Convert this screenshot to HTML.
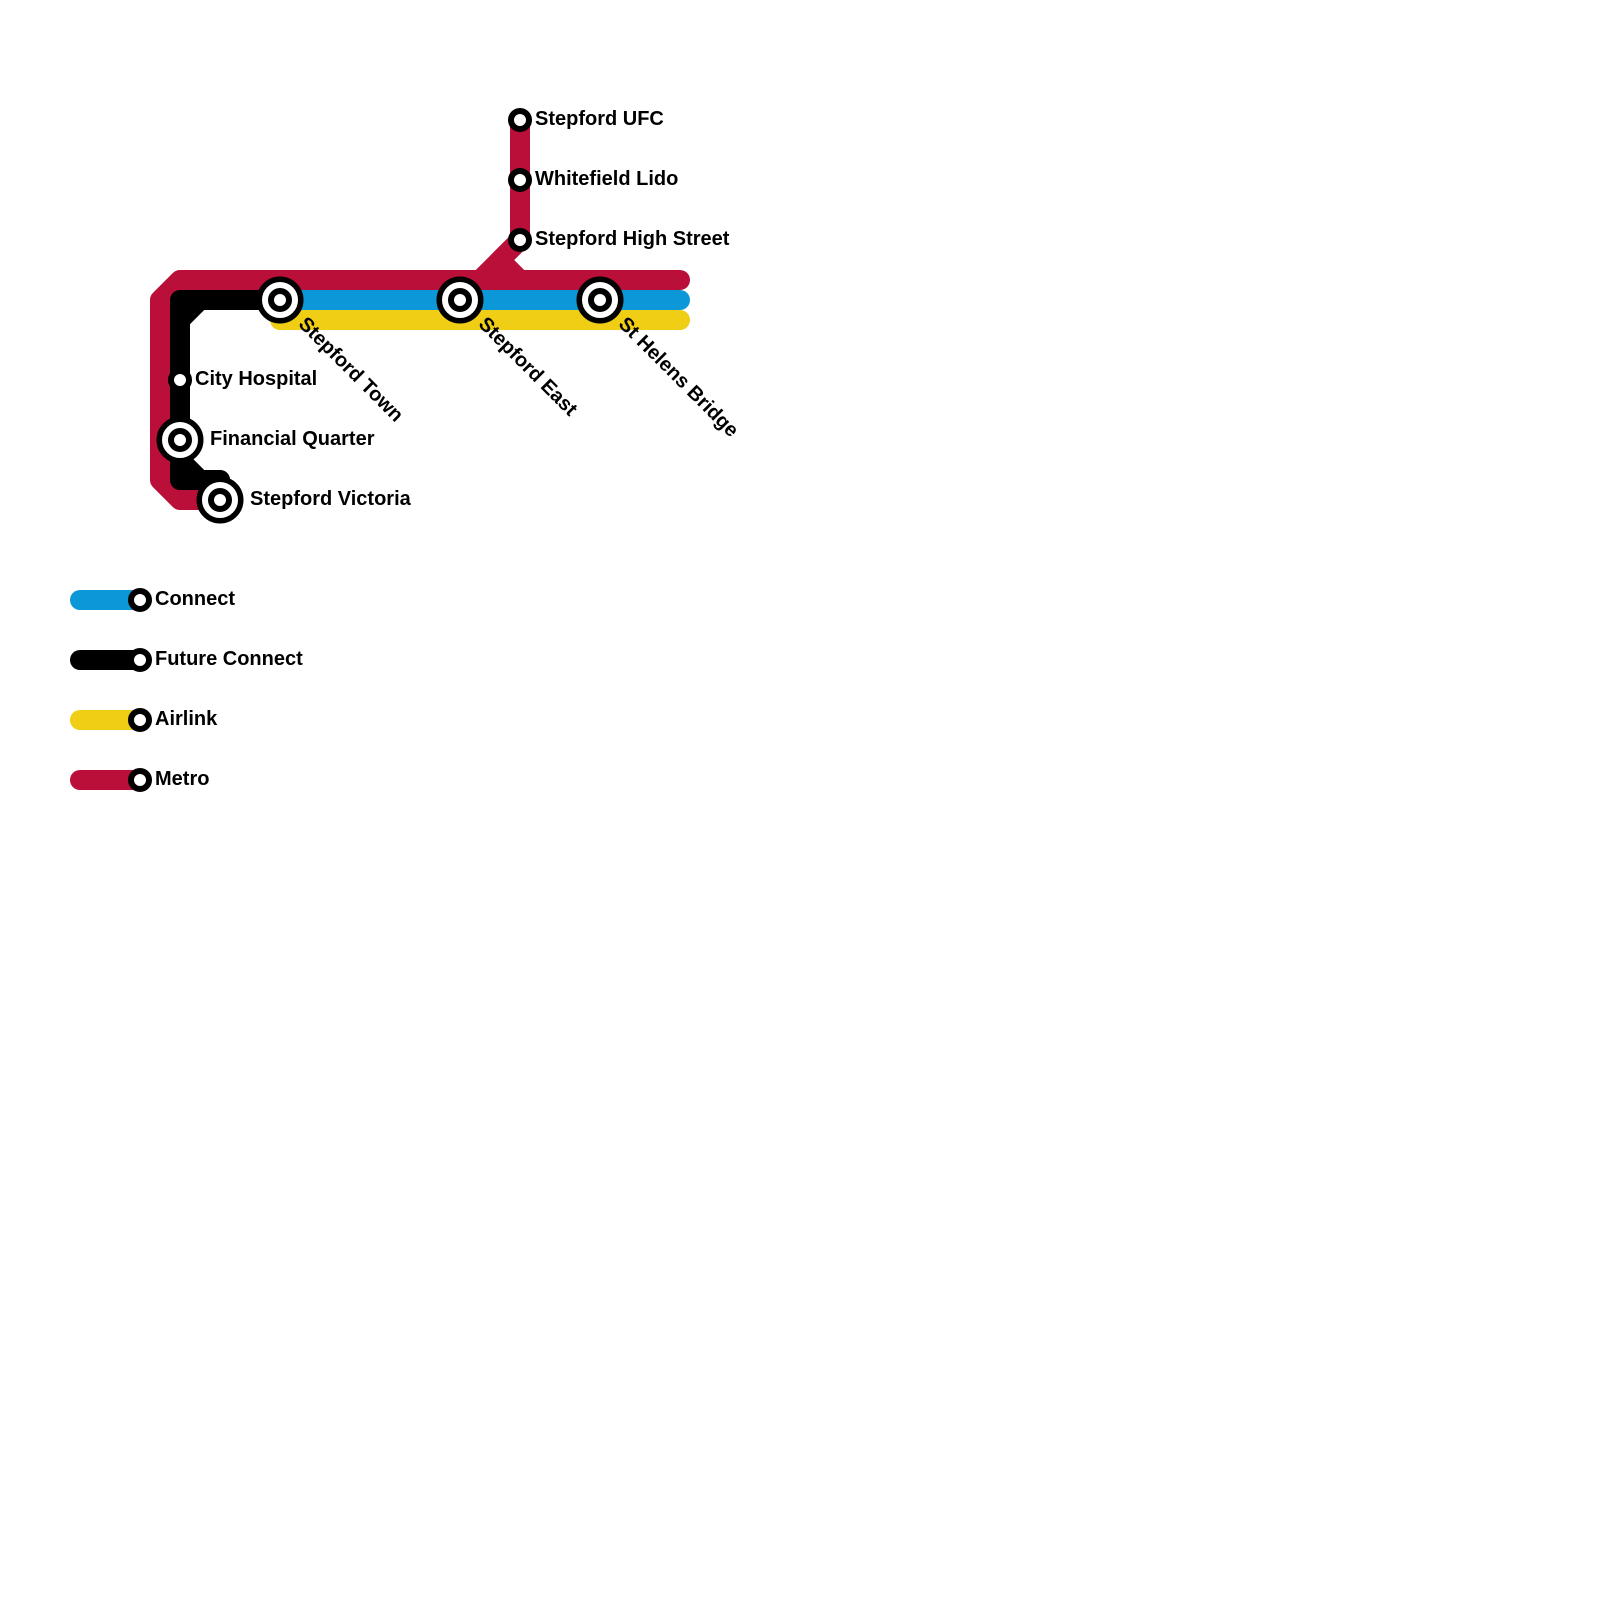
<!DOCTYPE html>
<html>
<head>
<meta charset="utf-8">
<style>
html,body{margin:0;padding:0;background:#fff;}
svg{display:block;}
text{font-family:"Liberation Sans",sans-serif;font-weight:bold;font-size:20px;fill:#000;}
</style>
</head>
<body>
<svg width="1600" height="1600" viewBox="0 0 1600 1600" xmlns="http://www.w3.org/2000/svg">
<rect width="1600" height="1600" fill="#fff"/>
<g fill="none" stroke-width="20" stroke-linecap="round" stroke-linejoin="round">
<path stroke="#BA0F39" d="M680 280H180L160 300V480L180 500H220"/>
<path stroke="#BA0F39" d="M520 120V240L480 280"/>
<path stroke="#BA0F39" d="M520 240L500 260L520 280"/>
<path stroke="#0C97D8" d="M280 300H680"/>
<path stroke="#F0CE15" d="M280 320H680"/>
<path stroke="#000" d="M280 300H180V480H220"/>
<path stroke="#000" d="M280 300H200L180 320V460L200 480H220"/>
<path stroke="#0C97D8" d="M80 600H140"/>
<path stroke="#000" d="M80 660H140"/>
<path stroke="#F0CE15" d="M80 720H140"/>
<path stroke="#BA0F39" d="M80 780H140"/>
</g>
<g fill="#fff" stroke="#000" stroke-width="6">
<circle cx="520" cy="120" r="9"/>
<circle cx="520" cy="180" r="9"/>
<circle cx="520" cy="240" r="9"/>
<circle cx="180" cy="380" r="9"/>
<circle cx="140" cy="600" r="9"/>
<circle cx="140" cy="660" r="9"/>
<circle cx="140" cy="720" r="9"/>
<circle cx="140" cy="780" r="9"/>
</g>
<g fill="#fff" stroke="#000">
<circle cx="280" cy="300" r="20.75" stroke-width="5.5"/><circle cx="280" cy="300" r="9" stroke-width="6"/>
<circle cx="460" cy="300" r="20.75" stroke-width="5.5"/><circle cx="460" cy="300" r="9" stroke-width="6"/>
<circle cx="600" cy="300" r="20.75" stroke-width="5.5"/><circle cx="600" cy="300" r="9" stroke-width="6"/>
<circle cx="180" cy="440" r="20.75" stroke-width="5.5"/><circle cx="180" cy="440" r="9" stroke-width="6"/>
<circle cx="220" cy="500" r="20.75" stroke-width="5.5"/><circle cx="220" cy="500" r="9" stroke-width="6"/>
</g>
<text x="535" y="125">Stepford UFC</text>
<text x="535" y="185">Whitefield Lido</text>
<text x="535" y="245">Stepford High Street</text>
<text x="195" y="385">City Hospital</text>
<text x="210" y="445">Financial Quarter</text>
<text x="250" y="505">Stepford Victoria</text>
<text x="155" y="605">Connect</text>
<text x="155" y="665">Future Connect</text>
<text x="155" y="725">Airlink</text>
<text x="155" y="785">Metro</text>
<text transform="translate(297.5 325) rotate(45)">Stepford Town</text>
<text transform="translate(477.5 325) rotate(45)">Stepford East</text>
<text transform="translate(617.5 325) rotate(45)">St Helens Bridge</text>
</svg>
</body>
</html>
